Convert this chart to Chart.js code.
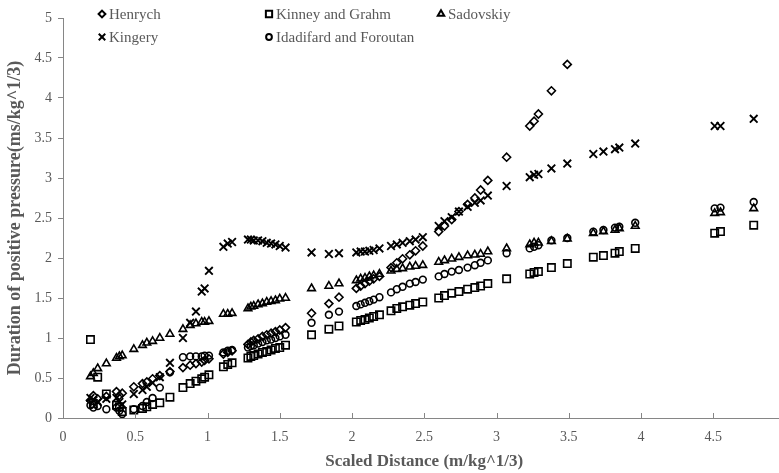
<!DOCTYPE html>
<html>
<head>
<meta charset="utf-8">
<script src="https://cdn.jsdelivr.net/npm/chart.js@4.4.1/dist/chart.umd.min.js"></script>
<style>
  html, body { margin: 0; padding: 0; background: #fff; overflow: hidden; }
  #wrap { width: 800px; height: 473px; }
</style>
</head>
<body>
<div id="wrap"><canvas id="durationChart" width="800" height="473"></canvas></div>
<script>
// scaled distance of each test (m/kg^1/3)
const scaledDistance = [
  0.19, 0.21, 0.24, 0.30, 0.37, 0.39, 0.41, 0.49, 0.55, 0.58, 0.62, 0.67, 0.74,
  0.83, 0.88, 0.92, 0.96, 0.98, 1.01, 1.11, 1.14, 1.17,
  1.28, 1.30, 1.32, 1.35, 1.38, 1.41, 1.44, 1.47, 1.50, 1.54,
  1.72, 1.84, 1.91, 2.03, 2.06, 2.09, 2.12, 2.15, 2.19,
  2.27, 2.31, 2.35, 2.40, 2.44, 2.49,
  2.60, 2.64, 2.69, 2.74, 2.80, 2.85, 2.89, 2.94,
  3.07, 3.23, 3.26, 3.29, 3.38, 3.49,
  3.67, 3.74, 3.82, 3.85, 3.96, 4.51, 4.55, 4.78
];

// positive phase duration (ms/kg^1/3) per empirical relation
const henrych = [
  0.22, 0.28, 0.24, 0.27, 0.33, 0.28, 0.31, 0.39, 0.43, 0.45, 0.49, 0.53, 0.58,
  0.63, 0.66, 0.68, 0.70, 0.72, 0.74, 0.80, 0.82, 0.84,
  0.92, 0.95, 0.97, 0.99, 1.02, 1.04, 1.06, 1.08, 1.10, 1.13,
  1.31, 1.43, 1.51, 1.62, 1.65, 1.68, 1.71, 1.74, 1.77,
  1.88, 1.94, 1.99, 2.04, 2.09, 2.15,
  2.33, 2.40, 2.48, 2.58, 2.67, 2.75, 2.85, 2.97,
  3.26, 3.65, 3.71, 3.80, 4.09, 4.42,
  null, null, null, null, null, null, null, null
];
const kinneyGrahm = [
  0.98, 0.18, 0.51, 0.30, 0.16, 0.14, 0.08, 0.10, 0.12, 0.14, 0.17, 0.19, 0.26,
  0.38, 0.43, 0.46, 0.49, 0.51, 0.54, 0.64, 0.67, 0.69,
  0.75, 0.77, 0.78, 0.80, 0.82, 0.83, 0.85, 0.87, 0.88, 0.91,
  1.04, 1.11, 1.15, 1.20, 1.22, 1.23, 1.25, 1.27, 1.29,
  1.34, 1.37, 1.39, 1.41, 1.43, 1.45,
  1.50, 1.53, 1.56, 1.58, 1.61, 1.63, 1.65, 1.68,
  1.74, 1.80, 1.82, 1.83, 1.88, 1.93,
  2.01, 2.03, 2.06, 2.08, 2.12, 2.31, 2.33, 2.41
];
const sadovskiy = [
  0.52, 0.56, 0.62, 0.68, 0.75, 0.77, 0.78, 0.86, 0.91, 0.94, 0.96, 1.00, 1.05,
  1.11, 1.16, 1.18, 1.20, 1.20, 1.21, 1.30, 1.30, 1.31,
  1.37, 1.39, 1.40, 1.42, 1.43, 1.45, 1.46, 1.47, 1.49, 1.50,
  1.62, 1.65, 1.68, 1.72, 1.74, 1.75, 1.77, 1.78, 1.80,
  1.84, 1.86, 1.87, 1.89, 1.90, 1.91,
  1.95, 1.97, 1.99, 2.01, 2.03, 2.04, 2.05, 2.08,
  2.12, 2.17, 2.19, 2.19, 2.21, 2.24,
  2.31, 2.33, 2.35, 2.37, 2.40, 2.56, 2.57, 2.62
];
const kingery = [
  0.25, 0.22, 0.20, 0.24, 0.25, 0.20, 0.17, 0.30, 0.35, 0.39, 0.44, 0.51, 0.69,
  1.00, 1.19, 1.33, 1.58, 1.62, 1.84, 2.14, 2.18, 2.20,
  2.23, 2.23, 2.22, 2.22, 2.21, 2.19, 2.18, 2.17, 2.15, 2.13,
  2.07, 2.05, 2.06, 2.07, 2.08, 2.08, 2.09, 2.10, 2.12,
  2.15, 2.17, 2.19, 2.21, 2.23, 2.26,
  2.40, 2.46, 2.51, 2.58, 2.64, 2.69, 2.72, 2.78,
  2.90, 3.01, 3.04, 3.05, 3.12, 3.18,
  3.30, 3.33, 3.36, 3.38, 3.43, 3.65, 3.65, 3.74
];
const idadifardForoutan = [
  0.16, 0.13, 0.15, 0.11, 0.13, 0.09, 0.05, 0.11, 0.15, 0.20, 0.25, 0.38, 0.57,
  0.76, 0.77, 0.77, 0.77, 0.78, 0.78, 0.82, 0.84, 0.85,
  0.88, 0.90, 0.91, 0.93, 0.95, 0.97, 0.98, 1.00, 1.02, 1.04,
  1.19, 1.29, 1.33, 1.40, 1.42, 1.44, 1.46, 1.48, 1.51,
  1.57, 1.61, 1.64, 1.68, 1.70, 1.73,
  1.77, 1.80, 1.83, 1.85, 1.88, 1.91, 1.94, 1.97,
  2.06, 2.12, 2.14, 2.16, 2.22, 2.25,
  2.33, 2.35, 2.38, 2.39, 2.44, 2.62, 2.63, 2.70
];

const seriesNames = ['Henrych', 'Kinney and Grahm', 'Sadovskiy', 'Kingery', 'Idadifard and Foroutan'];
const seriesValues = [henrych, kinneyGrahm, sadovskiy, kingery, idadifardForoutan];
const markerStyles = ['rectRot', 'rect', 'triangle', 'crossRot', 'circle'];
const markerRadius = [4, 5.2, 4.4, 5.4, 3.4];

const axisGrey = '#868686';
const textGrey = '#595959';
const serif = "'Liberation Serif', 'Times New Roman', serif";

function toPoints(values) {
  return scaledDistance
    .map((x, i) => ({ x: x, y: values[i] }))
    .filter((p) => p.y !== null);
}

// plain number labels: 0, 0.5, 1, 1.5 ...
const plainTick = (value) => String(Math.round(value * 10) / 10);

// legend laid out in fixed columns inside the plot, top-left
const legendColumns = [102, 269, 441];
const legendRows = [14, 37];

const fixedLegend = {
  id: 'fixedLegend',
  afterDraw(chart) {
    const ctx = chart.ctx;
    ctx.save();
    chart.data.datasets.forEach((ds, i) => {
      const cx = legendColumns[i % 3];
      const cy = legendRows[Math.floor(i / 3)];
      ctx.strokeStyle = '#000';
      ctx.fillStyle = 'rgba(0,0,0,0)';
      ctx.lineWidth = 2;
      Chart.helpers.drawPoint(ctx, {
        pointStyle: ds.pointStyle,
        radius: ds.pointRadius * 0.85,
        rotation: 0,
        borderWidth: 2,
      }, cx, cy);
      ctx.fillStyle = textGrey;
      ctx.font = '15px ' + serif;
      ctx.textBaseline = 'middle';
      ctx.textAlign = 'left';
      ctx.fillText(ds.label, cx + 7, cy + 1);
    });
    ctx.restore();
  },
};

// x axis tick marks point inwards
const innerXTicks = {
  id: 'innerXTicks',
  afterDraw(chart) {
    const scale = chart.scales.x;
    const ctx = chart.ctx;
    ctx.save();
    ctx.strokeStyle = axisGrey;
    ctx.lineWidth = 1;
    scale.ticks.forEach((t) => {
      const px = Math.round(scale.getPixelForValue(t.value)) + 0.5;
      ctx.beginPath();
      ctx.moveTo(px, scale.top);
      ctx.lineTo(px, scale.top - 5);
      ctx.stroke();
    });
    ctx.restore();
  },
};

new Chart(document.getElementById('durationChart'), {
  type: 'scatter',
  data: {
    datasets: seriesNames.map((name, i) => ({
      label: name,
      data: toPoints(seriesValues[i]),
      pointStyle: markerStyles[i],
      pointRadius: markerRadius[i],
      pointHoverRadius: markerRadius[i],
      borderColor: '#000',
      backgroundColor: 'rgba(0,0,0,0)',
      pointBorderWidth: markerStyles[i] === 'crossRot' ? 1.9 : 1.6,
      showLine: false,
    })),
  },
  options: {
    responsive: false,
    animation: false,
    layout: { padding: { top: 18, right: 9, left: 0, bottom: 0 } },
    plugins: {
      legend: { display: false },
      tooltip: { enabled: false },
    },
    scales: {
      x: {
        type: 'linear',
        min: 0,
        max: 5,
        ticks: { stepSize: 0.5, callback: plainTick, color: textGrey, font: { family: serif, size: 14 }, padding: 11, maxRotation: 0 },
        grid: { display: true, drawOnChartArea: false, drawTicks: false },
        border: { color: axisGrey },
        title: {
          display: true,
          text: 'Scaled Distance (m/kg^1/3)',
          color: textGrey,
          font: { family: serif, size: 17, weight: 'bold' },
          padding: { top: 0, bottom: 1 },
        },
        afterFit(scale) { scale.height = 55; },
      },
      y: {
        min: 0,
        max: 5,
        ticks: { stepSize: 0.5, callback: plainTick, color: textGrey, font: { family: serif, size: 14 }, padding: 6 },
        grid: { display: true, drawOnChartArea: false, tickLength: 5, color: axisGrey },
        border: { color: axisGrey },
        title: {
          display: true,
          text: 'Duration of positive pressure(ms/kg^1/3)',
          color: textGrey,
          font: { family: serif, size: 18, weight: 'bold' },
          padding: { top: 5, bottom: 0 },
        },
        afterFit(scale) { scale.width = 63; },
      },
    },
  },
  plugins: [innerXTicks, fixedLegend],
});
</script>
</body>
</html>
